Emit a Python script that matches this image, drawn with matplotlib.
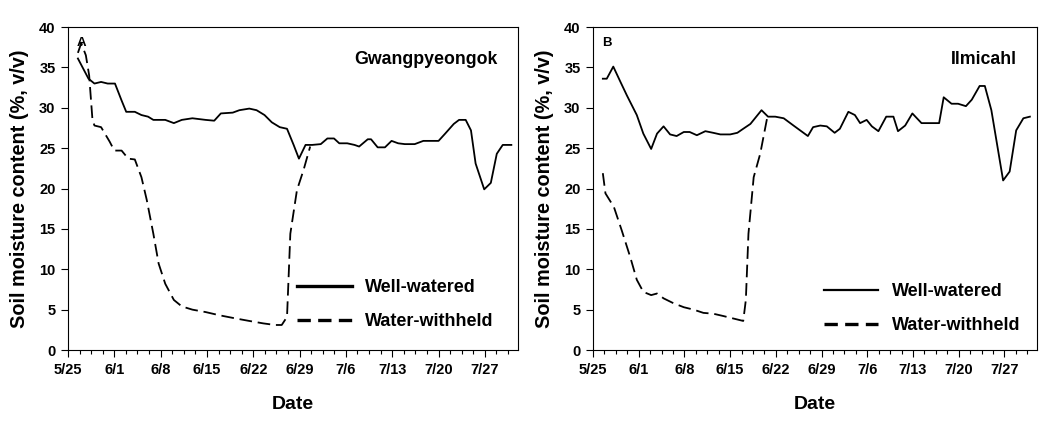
import matplotlib.pyplot as plt
from matplotlib.lines import Line2D
from matplotlib.ticker import AutoMinorLocator, MultipleLocator

plt.rcParams["font.family"] = ["Liberation Sans", "DejaVu Sans"]
plt.rcParams["font.weight"] = "bold"

# x values are days after 5/25
TICK_DAYS = [0, 7, 14, 21, 28, 35, 42, 49, 56, 63]
TICK_LABELS = ["5/25", "6/1", "6/8", "6/15", "6/22", "6/29", "7/6", "7/13", "7/20", "7/27"]

# Gwangpyeongok
a_ww_day = [1.5, 3.1, 4.0, 5.0, 6.0, 7.1, 8.1, 8.8, 10.1, 11.1, 12.1, 12.9, 14.7, 16.0,
            17.2, 18.8, 20.8, 22.1, 23.1, 24.9, 25.9, 27.4, 28.5, 29.7, 30.8, 32.0, 33.1,
            34.1, 34.9, 35.9, 36.9, 38.2, 39.2, 40.2, 41.0, 42.2, 43.3, 44.0, 45.3, 45.8,
            46.8, 47.9, 48.9, 49.9, 50.9, 52.4, 53.7, 55.0, 56.0, 57.0, 58.3, 59.1, 60.1,
            60.9, 61.6, 62.9, 63.9, 64.8, 65.7, 67.0]
a_ww_val = [36.1, 33.6, 33.0, 33.2, 33.0, 33.0, 30.9, 29.5, 29.5, 29.1, 28.9, 28.5, 28.5, 28.1,
            28.5, 28.7, 28.5, 28.4, 29.3, 29.4, 29.7, 29.9, 29.7, 29.1, 28.2, 27.6, 27.4,
            25.4, 23.7, 25.4, 25.4, 25.5, 26.2, 26.2, 25.6, 25.6, 25.4, 25.2, 26.1, 26.1,
            25.1, 25.1, 25.9, 25.6, 25.5, 25.5, 25.9, 25.9, 25.9, 26.8, 28.0, 28.5, 28.5,
            27.2, 23.1, 19.9, 20.7, 24.3, 25.4, 25.4]
a_wd_day = [1.5, 2.0, 2.7, 3.2, 3.7, 4.0, 5.0, 6.3, 7.0, 8.1, 9.1, 10.1, 11.1, 11.9, 12.9,
            13.7, 14.7, 16.0, 17.2, 18.8, 20.8, 22.9, 25.4, 27.4, 29.5, 31.3, 32.3, 33.1,
            33.3, 33.6, 34.6, 35.6, 36.6]
a_wd_val = [36.8, 38.0, 36.5, 34.0, 28.5, 27.8, 27.6, 25.8, 24.7, 24.7, 23.7, 23.6, 21.4, 18.6,
            14.4, 10.7, 8.2, 6.2, 5.4, 5.0, 4.7, 4.3, 3.9, 3.6, 3.3, 3.1, 3.1, 4.1,
            8.2, 14.4, 19.8, 22.3, 25.2]

# Ilmicahl
b_ww_day = [1.5, 2.1, 3.1, 4.2, 5.2, 6.7, 7.7, 8.9, 9.8, 10.8, 11.8, 12.8, 13.9, 14.8, 15.9,
            17.2, 18.4, 19.5, 21.0, 22.1, 23.0, 24.1, 25.8, 26.8, 27.9, 29.2, 30.7, 32.9,
            33.7, 34.8, 35.8, 37.0, 37.8, 39.1, 40.1, 40.9, 41.9, 42.7, 43.7, 44.9, 46.0,
            46.7, 47.8, 48.9, 50.3, 51.6, 53.0, 53.7, 54.9, 55.9, 57.1, 58.0, 59.2, 60.0,
            61.0, 62.8, 63.8, 64.8, 65.9, 66.9]
b_ww_val = [33.6, 33.6, 35.1, 33.2, 31.5, 29.1, 26.8, 24.9, 26.8, 27.7, 26.7, 26.5, 27.0, 27.0,
            26.6, 27.1, 26.9, 26.7, 26.7, 26.9, 27.4, 28.0, 29.7, 28.9, 28.9, 28.7, 27.8, 26.5,
            27.6, 27.8, 27.7, 26.9, 27.4, 29.5, 29.1, 28.1, 28.5, 27.7, 27.1, 28.9, 28.9,
            27.1, 27.8, 29.3, 28.1, 28.1, 28.1, 31.3, 30.5, 30.5, 30.2, 31.0, 32.7, 32.7,
            29.7, 21.0, 22.1, 27.2, 28.7, 28.9]
b_wd_day = [1.5, 1.9, 3.2, 4.4, 5.7, 6.7, 7.7, 8.9, 9.8, 10.8, 12.3, 13.9, 15.4, 16.9, 18.4,
            20.0, 21.5, 23.0, 23.4, 23.8, 24.6, 25.6, 26.7]
b_wd_val = [21.9, 19.4, 17.7, 14.8, 11.5, 8.7, 7.2, 6.8, 7.0, 6.4, 5.8, 5.3, 5.0, 4.6, 4.5,
            4.2, 3.9, 3.6, 6.2, 14.4, 21.4, 24.3, 28.9]

PANELS = [
    ("A", "Gwangpyeongok", a_ww_day, a_ww_val, a_wd_day, a_wd_val, 2.4),
    ("B", "Ilmicahl", b_ww_day, b_ww_val, b_wd_day, b_wd_val, 1.6),
]
AX_POS = [
    [0.0642, 0.1686, 0.4249, 0.7672],
    [0.5600, 0.1686, 0.4193, 0.7672],
]
LEGEND_ANCHOR = [(0.494, 0.039), (0.504, 0.027)]


def draw_panel(ax, panel, legend_anchor):
    letter, site, ww_day, ww_val, wd_day, wd_val, legend_lw = panel
    ax.plot(ww_day, ww_val, color="black", linewidth=1.3)
    ax.plot(wd_day, wd_val, color="black", linewidth=1.3, linestyle=(0, (7.0, 3.2)))

    ax.set_xlim(0, 68)
    ax.set_ylim(0, 40)
    ax.set_xticks(TICK_DAYS)
    ax.set_xticklabels(TICK_LABELS)
    ax.xaxis.set_minor_locator(AutoMinorLocator(4))
    ax.yaxis.set_major_locator(MultipleLocator(5))
    ax.tick_params(axis="both", which="major", direction="out", length=5,
                   width=0.8, labelsize=10.5, pad=4)
    ax.tick_params(axis="x", which="minor", direction="out", length=3, width=0.8)
    for label in ax.get_xticklabels() + ax.get_yticklabels():
        label.set_fontweight("bold")
    for spine in ax.spines.values():
        spine.set_linewidth(0.8)

    ax.set_xlabel("Date", fontsize=14, fontweight="bold", labelpad=14)
    ax.set_ylabel("Soil moisture content (%, v/v)", fontsize=14.3,
                  fontweight="bold", labelpad=7.5)

    ax.text(0.02, 0.97, letter, transform=ax.transAxes, fontsize=9.5,
            fontweight="bold", va="top", ha="left")
    ax.text(0.955, 0.9, site, transform=ax.transAxes, fontsize=12.8,
            fontweight="bold", va="center", ha="right")

    handles = [
        Line2D([], [], color="black", linewidth=legend_lw),
        Line2D([], [], color="black", linewidth=2.4, linestyle=(0, (4.0, 2.2))),
    ]
    ax.legend(handles, ["Well-watered", "Water-withheld"], loc="lower left",
              bbox_to_anchor=legend_anchor, frameon=False,
              handlelength=3.0, handletextpad=0.75, labelspacing=0.95,
              borderaxespad=0, prop={"weight": "bold", "size": 13})


fig = plt.figure(figsize=(10.59, 4.21), dpi=100)
for pos, panel, anchor in zip(AX_POS, PANELS, LEGEND_ANCHOR):
    ax = fig.add_axes(pos)
    draw_panel(ax, panel, anchor)

fig.savefig("out.png", dpi=100)
